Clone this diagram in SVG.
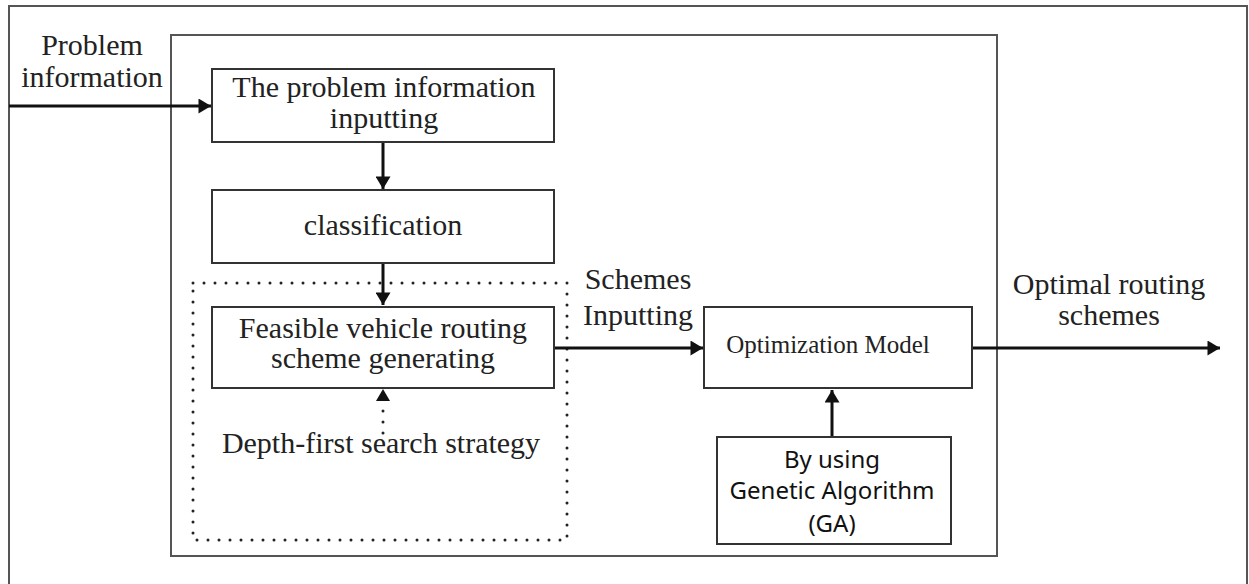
<svg xmlns="http://www.w3.org/2000/svg" width="1249" height="584" viewBox="0 0 1249 584">
<defs>
<style>
.frame{fill:none;stroke:#555;stroke-width:2}
.box{fill:#fff;stroke:#333;stroke-width:2}
.dot{fill:none;stroke:#222;stroke-width:3;stroke-linecap:round;stroke-dasharray:0 11}
.arr{fill:none;stroke:#111;stroke-width:3}
.serif{font-family:"Liberation Serif","Times New Roman",serif;font-size:30px;fill:#222;text-anchor:middle}
.sans{font-family:"Noto Sans","DejaVu Sans",sans-serif;font-size:24px;fill:#111;text-anchor:middle}
</style>
<marker id="ah" viewBox="0 0 10 12" refX="10" refY="6" markerWidth="4.2" markerHeight="5" markerUnits="strokeWidth" orient="auto">
<path d="M0,0 L10,6 L0,12 Z" fill="#111"/>
</marker>
</defs>
<rect width="1249" height="584" fill="#fff"/>
<path class="frame" d="M9,590 V6 H1247 V590"/>
<rect class="frame" x="171" y="35" width="826" height="521"/>
<rect id="dotted-region" class="dot" x="193" y="283" width="374" height="257"/>

<g id="connectors">
<line class="arr" x1="9" y1="106" x2="211" y2="106" marker-end="url(#ah)"/>
<line class="arr" x1="383" y1="142" x2="383" y2="189" marker-end="url(#ah)"/>
<line class="arr" x1="383" y1="263" x2="383" y2="305" marker-end="url(#ah)"/>
<line class="arr" x1="554" y1="348" x2="703" y2="348" marker-end="url(#ah)"/>
<line class="arr" x1="972" y1="348" x2="1220" y2="348" marker-end="url(#ah)"/>
<line class="arr" x1="832" y1="437" x2="832" y2="390" marker-end="url(#ah)"/>
<line class="dot" x1="383" y1="433" x2="383" y2="400"/>
<path d="M376,401 L383,389 L390,401 Z" fill="#111"/>
</g>

<g id="label-problem-information">
<text class="serif" x="92" y="55">Problem</text>
<text class="serif" x="92" y="87">information</text>
</g>
<g id="node-input">
<rect class="box" x="212" y="69" width="342" height="73"/>
<text class="serif" x="384" y="97">The problem information</text>
<text class="serif" x="384" y="128">inputting</text>
</g>
<g id="node-classification">
<rect class="box" x="212" y="190" width="342" height="73"/>
<text class="serif" x="383" y="235">classification</text>
</g>
<g id="node-feasible">
<rect class="box" x="212" y="307" width="342" height="81"/>
<text class="serif" x="383" y="338">Feasible vehicle routing</text>
<text class="serif" x="383" y="368">scheme generating</text>
</g>
<g id="label-depth-first">
<text class="serif" x="381" y="453">Depth-first search strategy</text>
</g>
<g id="label-schemes-inputting">
<text class="serif" x="638" y="289">Schemes</text>
<text class="serif" x="638" y="325">Inputting</text>
</g>
<g id="node-optimization">
<rect class="box" x="704" y="307" width="268" height="81"/>
<text class="serif" x="828" y="353" style="font-size:25px">Optimization Model</text>
</g>
<g id="node-ga">
<rect class="box" x="717" y="437" width="234" height="107"/>
<text class="sans" x="832" y="468">By using</text>
<text class="sans" x="832" y="499">Genetic Algorithm</text>
<text class="sans" x="832" y="532">(GA)</text>
</g>
<g id="label-optimal">
<text class="serif" x="1109" y="294">Optimal routing</text>
<text class="serif" x="1109" y="325">schemes</text>
</g>
</svg>
